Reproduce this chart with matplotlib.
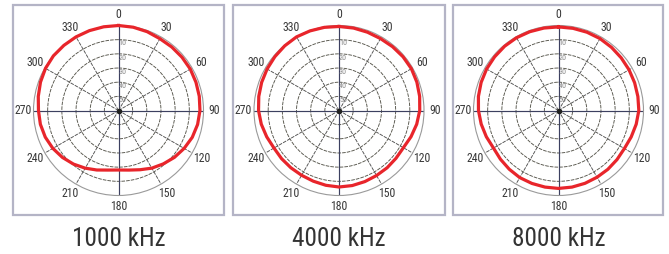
import os
import numpy as np
import matplotlib
matplotlib.use("Agg")
import matplotlib.pyplot as plt
from matplotlib import font_manager
from matplotlib.font_manager import FontProperties
from matplotlib.patches import Rectangle

# ---- data ----
titles = ["1000 kHz", "4000 kHz", "8000 kHz"]
angles_deg = list(range(0, 360, 10))
resp_1000 = [0, -0.3, -0.8, -1.5, -1.5, -1.5, -1.5, -1.8, -2.1, -2.5, -3.3, -4.6,
             -6.5, -8.5, -10.8, -13, -15.5, -17.3, -18, -17.3, -15.3, -13, -10.6, -8.4,
             -6.5, -5, -4, -3.5, -2.5, -1.4, -0.5, 0, 0, 0, 0, 0]
resp_4000 = [-0.7, -0.9, -1.2, -1.4, -1.2, -1, -1, -1.5, -2.2, -3, -4.3, -5.9,
             -7.5, -7.5, -7.2, -7, -6.6, -6.2, -6, -6.4, -6.9, -7.2, -7.2, -7.1,
             -7, -5.7, -4.3, -3.2, -2.5, -1.9, -1.4, -0.9, -0.4, 0, -0.2, -0.4]
resp_8000 = [-1, -1.1, -1.2, -1.4, -1.8, -2.2, -2.5, -2.8, -3.1, -3.3, -4.3, -5.4,
             -6.3, -6.1, -5.8, -5.6, -5.3, -5.1, -5, -5.1, -5.2, -5.3, -5.9, -6.5,
             -7, -5.8, -4.6, -3.5, -2.6, -1.9, -1.4, -1.1, -0.8, -0.7, -0.8, -0.9]
angle_ticks = [0, 30, 60, 90, 120, 150, 180, 210, 240, 270, 300, 330]
angle_labels = ["0", "30", "60", "90", "120", "150", "180", "210", "240", "270", "300", "330"]
ring_levels = [-50, -40, -30, -20, -10]
ring_labels = ["50", "40", "30", "20", "10"]
r_min, r_max = -60, 0

# ---- fonts ----
def find_narrow():
    prefs = ["liberationsansnarrow-regular", "arialn", "robotocondensed-regular",
             "opensanscondensed", "dejavusanscondensed.ttf"]
    files = [f.fname for f in font_manager.fontManager.ttflist]
    for p in prefs:
        for fn in files:
            if os.path.basename(fn).lower().startswith(p):
                return fn, p
    return None, None

narrow_file, which = find_narrow()
if narrow_file is not None:
    def fp(size):
        return FontProperties(fname=narrow_file, size=size)
else:
    def fp(size):
        return FontProperties(family="DejaVu Sans", stretch="condensed", size=size)

title_size = 18.2 if (which in ("liberationsansnarrow-regular", "arialn", "robotocondensed-regular")) else 16.8

W, H = 669, 254
fig = plt.figure(figsize=(W / 100, H / 100), dpi=100)
fig.patch.set_facecolor("white")

centers_x = [118.5, 339, 558.5]
cy = 110.5
R = 85
frames = [(13, 224), (233, 445), (453, 663)]
frame_top, frame_bot = 5, 215

series = [resp_1000, resp_4000, resp_8000]

for i in range(3):
    x0, x1 = frames[i]
    fig.add_artist(Rectangle((x0 / W, (H - frame_bot) / H), (x1 - x0) / W,
                             (frame_bot - frame_top) / H, transform=fig.transFigure,
                             fill=False, ec="#b4b4c6", lw=1.6))
    cx = centers_x[i]
    ax = fig.add_axes([(cx - R) / W, (H - cy - R) / H, 2 * R / W, 2 * R / H],
                      projection="polar")
    ax.set_theta_zero_location("N")
    ax.set_theta_direction(-1)
    ax.set_ylim(r_min, r_max)
    ax.grid(False)
    ax.set_xticks([])
    ax.set_yticks([])
    ax.patch.set_alpha(0)
    ax.spines["polar"].set_color("#9a9a9a")
    ax.spines["polar"].set_linewidth(0.8)

    tfine = np.linspace(0, 2 * np.pi, 361)
    for lv in ring_levels:
        ax.plot(tfine, np.full_like(tfine, lv), color="#55544a", lw=0.65,
                ls=(0, (4, 1.2)), zorder=2)
    for a in angle_ticks:
        th = np.deg2rad(a)
        if a % 90 == 0:
            ax.plot([th, th], [r_min, r_max], color="#3c4060", lw=0.85, zorder=2)
        else:
            ax.plot([th, th], [r_min, r_max], color="#505050", lw=0.65,
                    ls=(0, (4, 1.2)), zorder=2)
    ax.plot([0], [r_min], "o", color="#222222", ms=3, zorder=4)

    for lv, lab in zip(ring_levels, ring_labels):
        ax.text(0.0, lv - 2.6, lab, ha="left", va="center",
                color="#8a8a8a", zorder=3, fontproperties=fp(5.8))

    for a, lab in zip(angle_ticks, angle_labels):
        ax.text(np.deg2rad(a), 7.6, lab, ha="center", va="center",
                color="#383838", clip_on=False, fontproperties=fp(8.5))

    th = np.deg2rad(angles_deg + [angles_deg[0]])
    vals = series[i] + [series[i][0]]
    ax.plot(th, vals, color="#e8252b", lw=2.3, zorder=5, clip_on=False,
            solid_joinstyle="round")

    fig.text(cx / W, (H - 239) / H, titles[i], ha="center", va="center",
             color="#333333", fontproperties=fp(title_size))

fig.savefig("out.png", dpi=100, facecolor="white")
